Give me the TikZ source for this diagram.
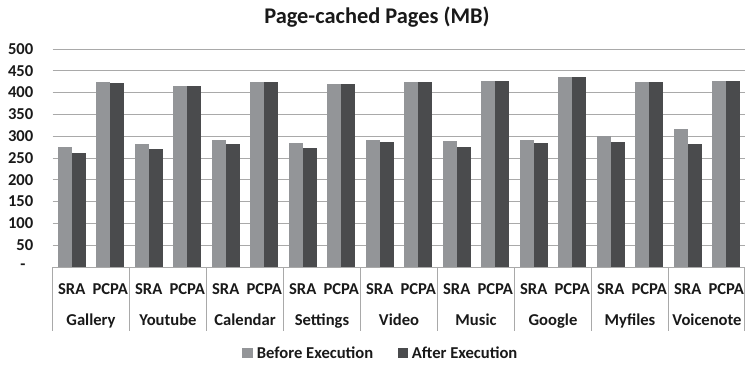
\documentclass[tikz,border=0pt]{standalone}
\usepackage{fontspec}
\setmainfont{Carlito}
\definecolor{before}{HTML}{939598}
\definecolor{after}{HTML}{4A4B4D}
\definecolor{gridgray}{HTML}{A9A9A9}
\begin{document}
\begin{tikzpicture}[x=1pt,y=1pt,font=\bfseries\fontsize{16.6}{19}\selectfont,
    lbl/.style={inner sep=0pt,text=black!90},
    gridline/.style={gridgray,line width=0.8pt}]
    \useasboundingbox (0,0) rectangle (745,365);
    \node[lbl,anchor=base,font=\bfseries\fontsize{22.4}{26}\selectfont] (title) at (377,341.7) {Page-cached Pages (MB)};
    \begin{scope}[shift={(52.5,98)}]
        \def\h{0.436} % pt per MB
        \def\w{38.5}  % width of one SRA/PCPA slot
        % grid lines and values
        \foreach \v in {50,100,...,500}{
            \draw[gridline] (0,\v*\h) -- (693,\v*\h);
            \node[lbl,anchor=east] (v\v) at (-19,\v*\h) {\v};
        }
        \draw[gridline] (0,0) -- (693,0);
        \node[lbl] (v0) at (-29.5,0) {-};
        % before / after bars
        \foreach \p/\q [count=\i from 0] in {276/261,425/423,282/270,416/415,291/282,425/425,284/274,419/419,292/286,424/424,288/275,427/426,291/284,435/435,301/287,425/425,317/283,427/426}{
            \fill[before] (\i*\w+5.25,0) rectangle ++(14,\p*\h);
            \fill[after] (\i*\w+19.25,0) rectangle ++(14,\q*\h);
        }
        % two rows of labels under the axis
        \foreach \g [count=\i from 0] in {Gallery,Youtube,Calendar,Settings,Video,Music,Google,Myfiles,Voicenote}{
            \node[lbl,anchor=base] (sra\i) at (\i*77+19.25,-27.3) {SRA};
            \node[lbl,anchor=base] (pcpa\i) at (\i*77+57.75,-27.3) {PCPA};
            \node[lbl,anchor=base] (app\i) at (\i*77+38.5,-58) {\g};
            \draw[gridline] (\i*77,0) -- (\i*77,-64);
        }
        \draw[gridline] (692,0) -- (692,-64);
    \end{scope}
    % legend
    \fill[before] (242.3,6.7) rectangle (253.3,16.7);
    \node[lbl,anchor=base west] (lbefore) at (256.7,7) {Before Execution};
    \fill[after] (397.7,6.7) rectangle (408.3,16.7);
    \node[lbl,anchor=base west] (lafter) at (411.7,7) {After Execution};
\end{tikzpicture}
\end{document}
